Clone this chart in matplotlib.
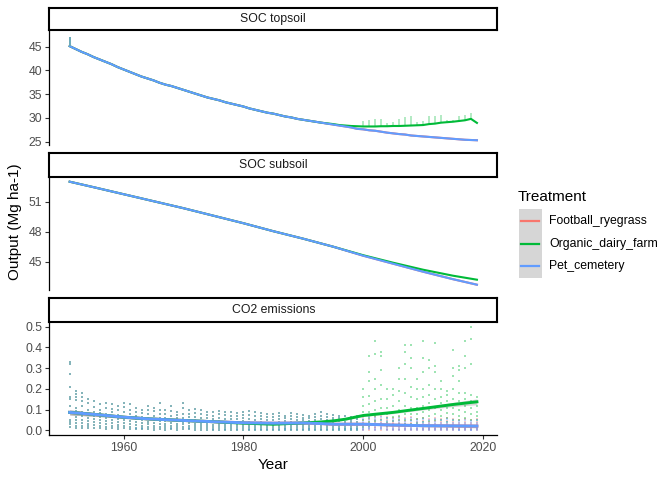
import matplotlib
matplotlib.use("Agg")
import matplotlib.pyplot as plt
import numpy as np

plt.rcParams['font.family'] = ['Liberation Sans', 'DejaVu Sans']

# treatments and colours (ggplot default hues)
treatments = ["Football_ryegrass", "Organic_dairy_farm", "Pet_cemetery"]
colors = ["#F8766D", "#00BA38", "#619CFF"]

# ---- SOC topsoil (Mg ha-1), annual values ----
top_years = list(range(1951, 2020))
top_pet = [45.1, 44.5, 43.9, 43.4, 42.8, 42.3, 41.8, 41.3, 40.7, 40.2,
           39.7, 39.2, 38.7, 38.3, 37.9, 37.4, 37.0, 36.7, 36.3, 35.9,
           35.5, 35.1, 34.7, 34.3, 34.0, 33.7, 33.3, 33.0, 32.7, 32.4,
           32.0, 31.7, 31.4, 31.1, 30.9, 30.6, 30.3, 30.1, 29.8, 29.6,
           29.4, 29.2, 29.0, 28.8, 28.6, 28.4, 28.2, 28.0, 27.7, 27.6,
           27.4, 27.3, 27.1, 26.9, 26.75, 26.6, 26.5, 26.3, 26.2, 26.1,
           26.0, 25.9, 25.8, 25.7, 25.6, 25.5, 25.4, 25.35, 25.3]
top_start = [47.1, 46.6, 46.0, 45.5]   # first-year spike
top_dairy_years = list(range(1993, 2020))
top_dairy = [29.0, 28.85, 28.7, 28.5, 28.4, 28.3, 28.25, 28.2, 28.2, 28.2,
             28.25, 28.25, 28.3, 28.3, 28.35, 28.4, 28.45, 28.5, 28.7, 28.8,
             29.0, 29.1, 29.2, 29.35, 29.5, 29.8, 28.95]
top_dairy_peak_years = list(range(2000, 2019))
top_dairy_peaks = [29.35, 29.6, 29.8, 29.8, 28.9, 29.1, 29.8, 30.1, 30.3, 29.2,
                   29.25, 30.3, 30.3, 30.6, 29.6, 29.6, 30.4, 30.6, 31.0]

# ---- SOC subsoil ----
sub_years = [1951, 1955, 1960, 1965, 1970, 1975, 1980, 1985, 1990, 1995,
             2000, 2005, 2010, 2015, 2019]
sub_pet = [53.0, 52.45, 51.75, 51.05, 50.35, 49.6, 48.85, 48.05, 47.3, 46.5,
           45.6, 44.8, 44.0, 43.25, 42.7]
sub_dairy = [53.0, 52.45, 51.75, 51.05, 50.35, 49.6, 48.85, 48.05, 47.3, 46.5,
             45.65, 44.9, 44.2, 43.6, 43.2]

# ---- CO2 emissions: smoothed trend ----
co2_s_years = [1951, 1956, 1960, 1964, 1970, 1975, 1980, 1985, 1990, 1993,
               1995, 1997, 2000, 2005, 2010, 2015, 2019]
co2_s_pet = [0.087, 0.075, 0.064, 0.056, 0.048, 0.042, 0.037, 0.035, 0.036, 0.033,
             0.030, 0.030, 0.030, 0.026, 0.023, 0.022, 0.021]
co2_s_dairy = [0.087, 0.075, 0.064, 0.056, 0.048, 0.042, 0.035, 0.030, 0.036, 0.041,
               0.046, 0.054, 0.072, 0.087, 0.106, 0.125, 0.138]
co2_se_pet = [0.012, 0.008, 0.006, 0.005, 0.004, 0.004, 0.004, 0.004, 0.004, 0.004,
              0.004, 0.004, 0.004, 0.004, 0.005, 0.006, 0.008]
co2_se_dairy = [0.012, 0.008, 0.006, 0.005, 0.004, 0.004, 0.004, 0.004, 0.004, 0.004,
                0.004, 0.005, 0.005, 0.006, 0.007, 0.010, 0.014]

# ---- CO2 emissions: monthly values per year ----
co2_shared_years = list(range(1951, 2000))
co2_shared = [
    [0.33, 0.32, 0.27, 0.21, 0.16, 0.15, 0.12, 0.09, 0.05, 0.04, 0.03, 0.015],
    [0.19, 0.175, 0.16, 0.145, 0.11, 0.095, 0.065, 0.05, 0.035, 0.02, 0.012],
    [0.18, 0.16, 0.14, 0.12, 0.09, 0.07, 0.05, 0.035, 0.02, 0.01],
    [0.15, 0.13, 0.1, 0.08, 0.06, 0.045, 0.03, 0.02, 0.01],
    [0.14, 0.115, 0.09, 0.07, 0.055, 0.04, 0.025, 0.012],
    [0.125, 0.1, 0.085, 0.065, 0.05, 0.035, 0.022, 0.01],
    [0.13, 0.11, 0.08, 0.06, 0.045, 0.03, 0.018, 0.008],
    [0.125, 0.105, 0.09, 0.07, 0.05, 0.035, 0.02, 0.01],
    [0.12, 0.1, 0.075, 0.055, 0.04, 0.028, 0.015, 0.006],
    [0.13, 0.115, 0.09, 0.065, 0.05, 0.035, 0.02, 0.01],
    [0.125, 0.1, 0.08, 0.06, 0.045, 0.03, 0.017, 0.007],
    [0.11, 0.09, 0.07, 0.055, 0.04, 0.025, 0.012, 0.005],
    [0.1, 0.085, 0.065, 0.05, 0.035, 0.022, 0.012, 0.005],
    [0.12, 0.1, 0.08, 0.06, 0.042, 0.03, 0.018, 0.008],
    [0.11, 0.095, 0.07, 0.05, 0.035, 0.022, 0.01, 0.004],
    [0.13, 0.1, 0.08, 0.06, 0.045, 0.03, 0.018, 0.008],
    [0.1, 0.08, 0.06, 0.045, 0.03, 0.02, 0.01, 0.004],
    [0.12, 0.095, 0.07, 0.05, 0.035, 0.022, 0.012, 0.005],
    [0.09, 0.075, 0.06, 0.045, 0.03, 0.02, 0.01, 0.004],
    [0.13, 0.11, 0.08, 0.06, 0.042, 0.03, 0.017, 0.007],
    [0.1, 0.08, 0.065, 0.05, 0.035, 0.022, 0.012, 0.005],
    [0.105, 0.085, 0.065, 0.048, 0.033, 0.02, 0.01, 0.004],
    [0.1, 0.08, 0.06, 0.045, 0.03, 0.02, 0.01, 0.004],
    [0.09, 0.075, 0.06, 0.045, 0.03, 0.02, 0.01, 0.004],
    [0.09, 0.07, 0.055, 0.04, 0.028, 0.018, 0.009, 0.003],
    [0.095, 0.08, 0.06, 0.045, 0.03, 0.02, 0.01, 0.004],
    [0.09, 0.075, 0.055, 0.04, 0.028, 0.018, 0.009, 0.003],
    [0.09, 0.07, 0.055, 0.04, 0.03, 0.02, 0.01, 0.004],
    [0.085, 0.07, 0.055, 0.04, 0.028, 0.018, 0.008, 0.003],
    [0.09, 0.075, 0.06, 0.045, 0.03, 0.02, 0.01, 0.004],
    [0.095, 0.075, 0.055, 0.04, 0.028, 0.018, 0.008, 0.003],
    [0.09, 0.07, 0.05, 0.038, 0.026, 0.016, 0.007, 0.002],
    [0.085, 0.07, 0.055, 0.04, 0.028, 0.018, 0.009, 0.003],
    [0.08, 0.065, 0.05, 0.038, 0.026, 0.016, 0.008, 0.003],
    [0.08, 0.065, 0.05, 0.036, 0.025, 0.015, 0.007, 0.002],
    [0.085, 0.07, 0.055, 0.04, 0.028, 0.018, 0.009, 0.003],
    [0.07, 0.058, 0.045, 0.033, 0.023, 0.014, 0.007, 0.002],
    [0.085, 0.07, 0.055, 0.04, 0.028, 0.018, 0.009, 0.003],
    [0.08, 0.065, 0.05, 0.036, 0.025, 0.015, 0.007, 0.002],
    [0.075, 0.06, 0.048, 0.035, 0.025, 0.015, 0.007, 0.002],
    [0.07, 0.058, 0.045, 0.033, 0.023, 0.014, 0.007, 0.002],
    [0.08, 0.065, 0.05, 0.036, 0.025, 0.015, 0.007, 0.002],
    [0.09, 0.07, 0.055, 0.04, 0.028, 0.018, 0.009, 0.003],
    [0.08, 0.065, 0.05, 0.036, 0.025, 0.015, 0.007, 0.002],
    [0.075, 0.06, 0.048, 0.035, 0.025, 0.015, 0.007, 0.002],
    [0.07, 0.058, 0.045, 0.033, 0.023, 0.014, 0.007, 0.002],
    [0.07, 0.055, 0.042, 0.03, 0.02, 0.012, 0.006, 0.002],
    [0.065, 0.052, 0.04, 0.03, 0.02, 0.012, 0.006, 0.002],
    [0.07, 0.055, 0.042, 0.03, 0.02, 0.012, 0.006, 0.002],
]

co2_late_years = list(range(2000, 2020))
co2_dairy_late = [
    [0.2, 0.16, 0.12, 0.09, 0.07, 0.05, 0.03, 0.015],
    [0.36, 0.28, 0.24, 0.165, 0.125, 0.09, 0.06, 0.04, 0.02],
    [0.43, 0.37, 0.25, 0.2, 0.14, 0.1, 0.07, 0.045, 0.025],
    [0.38, 0.36, 0.29, 0.22, 0.15, 0.11, 0.08, 0.05, 0.03],
    [0.2, 0.15, 0.11, 0.08, 0.06, 0.04, 0.02],
    [0.2, 0.17, 0.12, 0.09, 0.065, 0.045, 0.025],
    [0.3, 0.25, 0.19, 0.14, 0.1, 0.07, 0.05, 0.03],
    [0.41, 0.38, 0.32, 0.25, 0.18, 0.12, 0.08, 0.05, 0.03],
    [0.41, 0.35, 0.3, 0.21, 0.16, 0.11, 0.08, 0.05, 0.03],
    [0.25, 0.2, 0.15, 0.11, 0.08, 0.055, 0.035],
    [0.43, 0.35, 0.28, 0.2, 0.16, 0.12, 0.09, 0.06, 0.04],
    [0.34, 0.3, 0.22, 0.17, 0.13, 0.1, 0.07, 0.045],
    [0.42, 0.31, 0.28, 0.2, 0.15, 0.11, 0.08, 0.05],
    [0.24, 0.2, 0.16, 0.13, 0.1, 0.07, 0.05],
    [0.19, 0.17, 0.14, 0.11, 0.085, 0.06, 0.04],
    [0.39, 0.3, 0.26, 0.2, 0.15, 0.11, 0.08, 0.05],
    [0.31, 0.29, 0.24, 0.18, 0.14, 0.1, 0.07, 0.05],
    [0.43, 0.36, 0.3, 0.18, 0.15, 0.12, 0.09, 0.06],
    [0.5, 0.44, 0.32, 0.17, 0.14, 0.11, 0.08, 0.05],
    [0.16, 0.12, 0.09, 0.07, 0.05],
]
co2_pet_late = [
    [0.07, 0.055, 0.04, 0.03, 0.02, 0.012, 0.006, 0.002],
    [0.065, 0.05, 0.038, 0.028, 0.018, 0.01, 0.005],
    [0.06, 0.048, 0.036, 0.026, 0.016, 0.009, 0.004],
    [0.065, 0.05, 0.038, 0.028, 0.018, 0.01, 0.005],
    [0.06, 0.046, 0.034, 0.024, 0.015, 0.008, 0.003],
    [0.055, 0.044, 0.032, 0.022, 0.014, 0.007, 0.003],
    [0.06, 0.046, 0.034, 0.024, 0.015, 0.008, 0.003],
    [0.055, 0.042, 0.03, 0.02, 0.012, 0.006, 0.002],
    [0.06, 0.045, 0.033, 0.023, 0.014, 0.007, 0.002],
    [0.05, 0.04, 0.03, 0.02, 0.012, 0.006, 0.002],
    [0.055, 0.042, 0.03, 0.02, 0.012, 0.006, 0.002],
    [0.05, 0.038, 0.028, 0.018, 0.011, 0.005, 0.002],
    [0.055, 0.042, 0.03, 0.02, 0.012, 0.006, 0.002],
    [0.05, 0.038, 0.028, 0.018, 0.011, 0.005, 0.002],
    [0.055, 0.04, 0.029, 0.019, 0.011, 0.005, 0.002],
    [0.05, 0.038, 0.027, 0.018, 0.01, 0.005, 0.002],
    [0.045, 0.035, 0.025, 0.016, 0.009, 0.004, 0.001],
    [0.05, 0.038, 0.027, 0.018, 0.01, 0.005, 0.002],
    [0.045, 0.034, 0.024, 0.016, 0.009, 0.004, 0.001],
    [0.05, 0.038, 0.027, 0.018, 0.01, 0.005, 0.002],
]
co2_rye_late = [
    [0.065, 0.05, 0.036, 0.025, 0.016, 0.009, 0.004],
    [0.07, 0.055, 0.042, 0.03, 0.02, 0.011, 0.004],
    [0.065, 0.05, 0.04, 0.028, 0.018, 0.01, 0.004],
    [0.07, 0.053, 0.04, 0.029, 0.019, 0.01, 0.004],
    [0.065, 0.05, 0.037, 0.026, 0.016, 0.009, 0.003],
    [0.06, 0.047, 0.035, 0.024, 0.015, 0.008, 0.003],
    [0.065, 0.05, 0.036, 0.026, 0.016, 0.009, 0.003],
    [0.06, 0.046, 0.033, 0.022, 0.013, 0.007, 0.002],
    [0.065, 0.049, 0.035, 0.025, 0.015, 0.008, 0.002],
    [0.055, 0.043, 0.032, 0.022, 0.013, 0.007, 0.002],
    [0.06, 0.045, 0.033, 0.022, 0.013, 0.007, 0.002],
    [0.055, 0.042, 0.03, 0.02, 0.012, 0.006, 0.002],
    [0.06, 0.045, 0.033, 0.022, 0.013, 0.007, 0.002],
    [0.055, 0.042, 0.03, 0.02, 0.012, 0.006, 0.002],
    [0.06, 0.044, 0.031, 0.021, 0.012, 0.006, 0.002],
    [0.055, 0.041, 0.029, 0.02, 0.011, 0.006, 0.002],
    [0.05, 0.038, 0.027, 0.018, 0.01, 0.005, 0.001],
    [0.055, 0.041, 0.029, 0.02, 0.011, 0.006, 0.002],
    [0.05, 0.037, 0.026, 0.018, 0.01, 0.005, 0.001],
    [0.055, 0.041, 0.029, 0.02, 0.011, 0.006, 0.002],
]

# ---- layout (pixel positions of the ggplot panels) ----
W, H = 672, 480
fig = plt.figure(figsize=(W / 100, H / 100), dpi=100)
x0, x1 = 49.3, 497.3
strips = [(7.5, 30), (152.5, 176.7), (297.5, 321.7)]
panels = [(30, 145), (176.7, 290), (321.7, 435)]
titles = ["SOC topsoil", "SOC subsoil", "CO2 emissions"]
tick_fs = 8.8
xlim = (1947.6, 2022.4)


def px_axes(top, bottom):
    return fig.add_axes([x0 / W, 1 - bottom / H, (x1 - x0) / W, (bottom - top) / H])


axes = []
for (st, sb), (pt, pb), title in zip(strips, panels, titles):
    sax = px_axes(st, sb)
    sax.set_xticks([])
    sax.set_yticks([])
    for sp in sax.spines.values():
        sp.set_linewidth(1.5)
        sp.set_color("black")
    sax.text(0.5, 0.5, title, ha="center", va="center", fontsize=tick_fs,
             color="#1A1A1A", transform=sax.transAxes)
    ax = px_axes(pt, pb)
    ax.set_facecolor("none")
    for s in ["top", "right", "bottom"]:
        ax.spines[s].set_visible(False)
    ax.spines["left"].set_linewidth(0.9)
    ax.set_xlim(*xlim)
    ax.tick_params(axis="y", labelsize=tick_fs, labelcolor="#4D4D4D",
                   color="#333333", length=3, width=0.8, pad=2)
    ax.tick_params(axis="x", bottom=False, labelbottom=False)
    axes.append(ax)

ax_top, ax_sub, ax_co2 = axes

# topsoil
ax_top.plot(top_years, top_pet, color=colors[0], lw=1.5)
ax_top.vlines(top_dairy_peak_years, [top_dairy[y - 1993] for y in top_dairy_peak_years],
              top_dairy_peaks, color=colors[1], alpha=0.3, lw=1.4)
ax_top.plot(top_years[:42] + top_dairy_years, top_pet[:42] + top_dairy,
            color=colors[1], lw=1.5)
ax_top.plot(top_years, top_pet, color=colors[2], lw=1.5)
ax_top.vlines([1951], top_pet[0], top_start[0], color="#6aa9b8", lw=1.4)
ax_top.set_ylim(24.3, 48.5)
ax_top.set_yticks([25, 30, 35, 40, 45])

# subsoil
ax_sub.plot(sub_years, sub_pet, color=colors[0], lw=1.5)
ax_sub.plot(sub_years, sub_dairy, color=colors[1], lw=1.5)
ax_sub.plot(sub_years, sub_pet, color=colors[2], lw=1.5)
ax_sub.set_ylim(42.17, 53.5)
ax_sub.set_yticks([45, 48, 51])

# CO2 points
point_sets = [co2_rye_late, co2_dairy_late, co2_pet_late]
for c, late in zip(colors, point_sets):
    xs, ys = [], []
    for yr, vals in zip(co2_shared_years, co2_shared):
        xs += [yr] * len(vals)
        ys += vals
    for yr, vals in zip(co2_late_years, late):
        xs += [yr] * len(vals)
        ys += vals
    ax_co2.plot(xs, ys, ls="none", marker="s", ms=2.0, mew=0, color=c, alpha=0.38)

# CO2 smooth lines with grey bands
s_pet = np.array(co2_s_pet)
s_dairy = np.array(co2_s_dairy)
for s, se, c in [(s_pet, co2_se_pet, colors[0]), (s_dairy, co2_se_dairy, colors[1]),
                 (s_pet, co2_se_pet, colors[2])]:
    ax_co2.fill_between(co2_s_years, s - np.array(se), s + np.array(se),
                        color="#999999", alpha=0.4, lw=0)
    ax_co2.plot(co2_s_years, s, color=c, lw=2.1)
ax_co2.set_ylim(-0.022, 0.524)
ax_co2.set_yticks([0.0, 0.1, 0.2, 0.3, 0.4, 0.5])
ax_co2.set_yticklabels(["0.0", "0.1", "0.2", "0.3", "0.4", "0.5"])
ax_co2.spines["bottom"].set_visible(True)
ax_co2.spines["bottom"].set_linewidth(0.9)
ax_co2.tick_params(axis="x", bottom=True, labelbottom=True, labelsize=tick_fs,
                   labelcolor="#4D4D4D", color="#333333", length=3, width=0.8, pad=2)
ax_co2.set_xticks([1960, 1980, 2000, 2020])

# axis titles
fig.text((x0 + x1) / 2 / W, 1 - 465 / H, "Year", ha="center", va="center",
         fontsize=11, color="black")
fig.text(15 / W, 1 - 222 / H, "Output (Mg ha-1)", ha="center", va="center",
         rotation=90, fontsize=11, color="black")

# legend
lax = fig.add_axes([0, 0, 1, 1])
lax.set_xlim(0, W)
lax.set_ylim(H, 0)
lax.axis("off")
lax.text(518, 197, "Treatment", ha="left", va="center", fontsize=11)
key_top = 209.3
key_h = 22.8
for i, (name, c) in enumerate(zip(treatments, colors)):
    yk = key_top + i * key_h
    lax.add_patch(plt.Rectangle((519, yk), 22.7, key_h, color="#D6D6D6", lw=0))
    lax.plot([521, 539], [yk + key_h / 2, yk + key_h / 2], color=c, lw=1.6)
    lax.text(549, yk + key_h / 2, name, ha="left", va="center", fontsize=tick_fs)

fig.savefig("out.png", dpi=100)
